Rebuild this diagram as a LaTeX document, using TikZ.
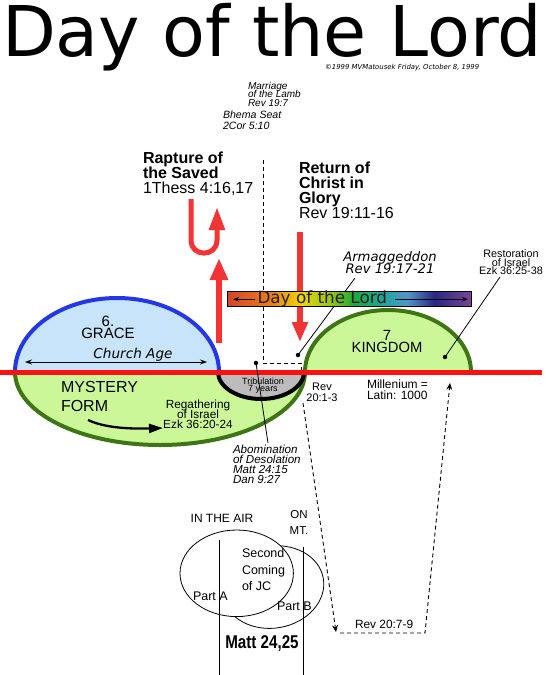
\documentclass[tikz,border=0pt]{standalone}
\usepackage{fontspec}
\setmainfont{Liberation Sans}
\newfontfamily\dvfont{DejaVu Sans}
\usetikzlibrary{arrows.meta}
\definecolor{redline}{RGB}{250,18,18}
\definecolor{redarrow}{RGB}{242,52,52}
\definecolor{graceblue}{RGB}{35,55,230}
\definecolor{gracefill}{RGB}{200,228,250}
\definecolor{greenfill}{RGB}{204,247,153}
\definecolor{greenline}{RGB}{62,118,22}
\definecolor{tribgray}{RGB}{188,188,188}
\definecolor{daytext}{RGB}{40,30,25}
\definecolor{dayA}{RGB}{212,68,40}
\definecolor{dayB}{RGB}{232,125,30}
\definecolor{dayC}{RGB}{240,212,10}
\definecolor{dayD}{RGB}{150,200,20}
\definecolor{dayE}{RGB}{30,168,60}
\definecolor{dayF}{RGB}{30,165,160}
\definecolor{dayG}{RGB}{80,150,200}
\definecolor{dayH}{RGB}{40,40,130}
\definecolor{dayI}{RGB}{120,70,150}
\pgfdeclarehorizontalshading{dayrainbow}{100bp}{color(0bp)=(dayA); color(25bp)=(dayA); color(34bp)=(dayB); color(40bp)=(dayC); color(46bp)=(dayD); color(51bp)=(dayE); color(57bp)=(dayF); color(62bp)=(dayG); color(67.5bp)=(dayH); color(75bp)=(dayI); color(100bp)=(dayI)}
\newcommand{\myfs}[2]{\fontsize{#1}{#2}\selectfont\lineskiplimit=-50pt\relax}
\begin{document}
\begin{tikzpicture}[x=1pt,y=-1pt,
  lbl/.style={inner sep=0pt,outer sep=0pt},
  dashln/.style={draw=black,line width=0.9pt,dash pattern=on 4pt off 3pt},
  thinln/.style={draw=black,line width=0.8pt},
  dotnode/.style={circle,fill=black,inner sep=0pt,minimum size=4.5pt},
  smallhead/.style={-{Stealth[length=6pt,width=4.5pt]}},
  dashhead/.style={-{Stealth[length=7pt,width=6pt,inset=2.5pt]}}
]
\fill[white] (0,0) rectangle (546,675);
\useasboundingbox (0,0) rectangle (546,675);

% title
\node[lbl,anchor=base west,font=\dvfont\myfs{70}{70}] (title) at (2,56) {Day of the Lord};
\node[lbl,anchor=base west,font=\dvfont\itshape\myfs{6.9}{7}] (copy) at (325,69) {\textcopyright 1999 MVMatousek Friday, October 8, 1999};

% upper notes
\node[lbl,anchor=north west,align=left,font=\itshape\myfs{10}{8.6}] (marriage) at (248,82) {Marriage\\of the Lamb\\Rev 19:7};
\node[lbl,anchor=north west,align=left,font=\itshape\myfs{10.6}{11}] (bhema) at (223,110.7) {Bhema Seat\\2Cor 5:10};
\node[lbl,anchor=north west,align=left,font=\myfs{16}{15}] (rapture) at (143,151.5) {\textbf{Rapture of}\\\textbf{the Saved}\\1Thess 4:16,17};
\node[lbl,anchor=north west,align=left,font=\myfs{16}{15}] (return) at (299,161.5) {\textbf{Return of}\\\textbf{Christ in}\\\textbf{Glory}\\Rev 19:11-16};

% dashed timeline
\coordinate (dtop) at (263,160);
\coordinate (dcorner) at (263,363);
\coordinate (dright) at (301,363);
\coordinate (dend) at (301,372);
\draw[dashln] (dtop) -- (dcorner) -- (dright) -- (dend);

% red arrows
\coordinate (rapB) at (219,343);
\coordinate (rapT) at (219,258);
\draw[draw=redarrow,line width=6.5pt,-{Triangle[length=22pt,width=17pt]}] (rapB) -- (rapT);
\coordinate (uA) at (191,199);
\coordinate (uB) at (191,240);
\coordinate (uC) at (217,240);
\coordinate (uD) at (217,207);
\draw[draw=redarrow,line width=5pt,-{Triangle[length=23pt,width=15pt]}] (uA) -- (uB) .. controls (191,257.5) and (217,257.5) .. (uC) -- (uD);
\coordinate (retT) at (300,232);
\coordinate (retB) at (300,342);
\draw[draw=redarrow,line width=5.5pt,-{Triangle[length=20pt,width=15pt]}] (retT) -- (retB);

% dispensations
\fill[gracefill] (15,372) arc[start angle=180,end angle=360,x radius=102,y radius=74] -- cycle;
\draw[graceblue,line width=4pt] (15,372) arc[start angle=180,end angle=360,x radius=102,y radius=74];
\fill[greenfill] (15,372) arc[start angle=180,end angle=0,x radius=145,y radius=73] -- cycle;
\draw[greenline,line width=4pt] (15,372) arc[start angle=180,end angle=0,x radius=145,y radius=73];
\fill[greenfill] (305,372) arc[start angle=180,end angle=360,x radius=83,y radius=62] -- cycle;
\draw[greenline,line width=4pt] (305,372) arc[start angle=180,end angle=360,x radius=83,y radius=62];
\fill[tribgray] (218,372) arc[start angle=180,end angle=0,x radius=43,y radius=27] -- cycle;
\draw[black,line width=4pt] (218,372) arc[start angle=180,end angle=0,x radius=43,y radius=27];

% main red line
\coordinate (rlL) at (0,372);
\coordinate (rlR) at (542,372);
\draw[redline,line width=5pt] (rlL) -- (rlR);

% labels in dispensations
\node[lbl,anchor=north,align=center,font=\myfs{15}{11.8}] (grace) at (108,316) {6.\\GRACE};
\node[lbl,anchor=base,font=\dvfont\itshape\myfs{13.6}{14}] (church) at (133,358) {Church Age};
\coordinate (caL) at (25,362);
\coordinate (caR) at (207,362);
\draw[thinln,{Stealth[length=7pt,width=5pt]}-{Stealth[length=7pt,width=5pt]}] (caL) -- (caR);
\node[lbl,anchor=north west,align=left,font=\myfs{16}{19}] (mystery) at (61,381.7) {MYSTERY\\FORM};
\node[lbl,anchor=north,align=center,font=\myfs{11.8}{10.2}] (regather) at (198,399.5) {Regathering\\of Israel\\Ezk 36:20-24};
\coordinate (mfA) at (88,420);
\coordinate (mfB) at (163,428);
\draw[line width=2.3pt,-{Triangle[length=14pt,width=9pt]}] (mfA) .. controls (105,428) and (130,429) .. (mfB);
\node[lbl,anchor=north,align=center,font=\myfs{9}{7}] (trib) at (263,377.5) {Tribulation\\7 years};
\node[lbl,anchor=north,align=center,font=\myfs{14.8}{11.8}] (kingdom) at (387,330.7) {7\\KINGDOM};

% restoration
\node[lbl,anchor=north,align=center,font=\myfs{10.8}{8.3}] (restor) at (511,250) {Restoration\\of Israel\\Ezk 36:25-38};
\node[dotnode] (kdot) at (445,357) {};
\coordinate (restL) at (500,277);
\draw[thinln] (restL) -- (kdot.center);

% armageddon
\node[lbl,anchor=north,align=center,font=\dvfont\itshape\myfs{13.2}{12}] (armag) at (390,251.7) {Armaggeddon\\Rev 19:17-21};
\node[dotnode] (adot) at (298,355) {};
\coordinate (armL) at (355,278);
\draw[thinln] (armL) -- (adot.center);

% day of the Lord bar
\node[lbl,draw=black,line width=0.6pt,shade,shading=dayrainbow,minimum width=244pt,minimum height=15pt,anchor=north west] (daybar) at (227,291) {};
\node[lbl,anchor=base west,font=\dvfont\myfs{16.8}{17},text=daytext] (daytxt) at (257.5,303.3) {Day of the Lord};
\coordinate (dlA) at (255,299.3);
\coordinate (dlB) at (233,299.3);
\coordinate (drA) at (395,299.3);
\coordinate (drB) at (468,299.3);
\draw[thinln,smallhead] (dlA) -- (dlB);
\draw[thinln,smallhead] (drA) -- (drB);

% abomination
\node[lbl,anchor=north west,align=left,font=\itshape\myfs{11.6}{9.9}] (abom) at (233,445) {Abomination\\of Desolation\\Matt 24:15\\Dan 9:27};
\node[dotnode] (tdot) at (256,363) {};
\coordinate (abomL) at (268,443);
\draw[thinln] (tdot.center) -- (abomL);

% millenium notes
\node[lbl,anchor=north,align=center,font=\myfs{11}{11}] (rev201) at (322,383.3) {Rev\\20:1-3};
\node[lbl,anchor=north west,align=left,font=\myfs{12}{11.7}] (mill) at (367,379.3) {Millenium =\\Latin: 1000};

% dashed loop
\coordinate (rv1) at (303,403);
\coordinate (rv2) at (336,632);
\draw[dashln,dashhead] (rv1) -- (rv2);
\coordinate (rv3) at (340,633);
\coordinate (rv4) at (425,633);
\coordinate (rv5) at (450,383);
\draw[dashln,dashhead] (rv3) -- (rv4) -- (rv5);
\node[lbl,anchor=base west,font=\myfs{11.9}{12}] (rev207) at (355,628.5) {Rev 20:7-9};

% second coming
\coordinate (e2c) at (273,587);
\draw[thinln,rotate around={10:(e2c)}] (e2c) ellipse[x radius=51,y radius=41];
\coordinate (e1c) at (236.7,573.3);
\filldraw[fill=white,draw=black,line width=0.8pt] (e1c) ellipse[x radius=56.7,y radius=43.3];
\coordinate (vA1) at (219,540);
\coordinate (vA2) at (219,675);
\coordinate (vB1) at (303,547);
\coordinate (vB2) at (303,675);
\draw[thinln] (vA1) -- (vA2);
\draw[thinln] (vB1) -- (vB2);
\node[lbl,anchor=base,font=\myfs{12}{12}] (air) at (222,522.7) {IN THE AIR};
\node[lbl,anchor=north,align=center,font=\myfs{11.5}{16.7}] (onmt) at (299,510) {ON\\MT.};
\node[lbl,anchor=north west,align=left,font=\myfs{12.5}{16.7}] (second) at (242,548.3) {Second\\Coming\\of JC};
\node[lbl,anchor=base west,font=\myfs{12.5}{12}] (parta) at (193,600.7) {Part A};
\node[lbl,anchor=base west,font=\myfs{12.5}{12}] (partb) at (277,610.7) {Part B};
\node[lbl,anchor=base,font=\bfseries\myfs{18.5}{18},xscale=0.82,transform shape] (matt) at (262,648.3) {Matt 24,25};
\end{tikzpicture}
\end{document}
